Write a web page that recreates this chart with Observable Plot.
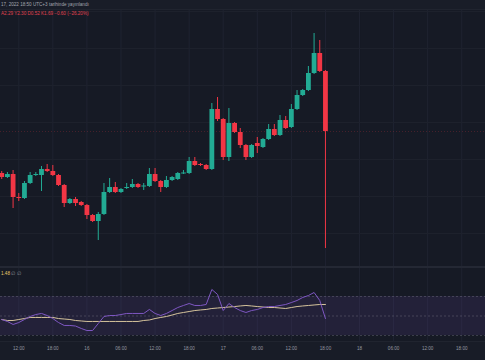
<!DOCTYPE html>
<html><head><meta charset="utf-8">
<script src="https://cdn.jsdelivr.net/npm/d3@7"></script>
<script src="https://cdn.jsdelivr.net/npm/@observablehq/plot@0.6"></script>
<style>
html,body{margin:0;padding:0;background:#161a25;}
#wrap{position:relative;width:485px;height:360px;overflow:hidden;background:#161a25;font-family:"Liberation Sans",Arial,sans-serif;}
#topbar{position:absolute;left:0;top:0;width:485px;height:9px;background:#191d28;border-bottom:1px solid #20242f;}
#meta{position:absolute;left:1px;top:2px;font-size:4.6px;color:#a3a6af;white-space:nowrap;}
#ohlc{position:absolute;left:1px;top:11px;font-size:4.6px;color:#e0414f;white-space:nowrap;}
#main{position:absolute;left:0;top:0;}
#sep{position:absolute;left:0;top:266px;width:485px;height:2px;background:#242834;}
#lower{position:absolute;left:0;top:268px;}
#axisbg{position:absolute;left:0;top:341px;width:485px;height:19px;background:#181c27;border-top:1px solid #20242f;}
#rsilab{position:absolute;left:1px;top:271px;font-size:4.6px;white-space:nowrap;}
svg{display:block;}
</style></head><body><div id="wrap">
<div id="axisbg"></div>
<div id="main"></div>
<div id="sep"></div>
<div id="lower"></div>
<div id="topbar"></div>
<div id="meta">17, 2022 18:50 UTC+3 tarihinde yayınlandı</div>
<div id="ohlc">A2.29 Y2.30 D0.52 K1.69 −0.60 (−26.20%)</div>
<div id="rsilab"><span style="color:#e8c86a">1.48</span> <span style="color:#8a8d96">∅ ∅</span></div>
</div>
<script>
// hourly candles, first at 2022-11-15 09:00
const startTime = new Date("2022-11-15T09:00:00Z");
const openP  = [1.27,1.23,1.26,1.03,1.02,1.17,1.25,1.25,1.31,1.29,1.25,1.15,0.97,1.01,0.98,0.95,0.85,0.79,0.86,1.08,1.13,1.08,1.12,1.13,1.16,1.135,1.14,1.26,1.19,1.13,1.20,1.21,1.265,1.27,1.39,1.36,1.35,1.31,1.91,1.81,1.43,1.77,1.68,1.55,1.43,1.57,1.53,1.61,1.71,1.65,1.80,1.73,1.91,2.05,2.10,2.27,2.47,2.29];
const highP  = [1.29,1.28,1.30,1.07,1.19,1.28,1.28,1.34,1.36,1.35,1.26,1.16,1.02,1.03,0.99,0.96,0.86,0.88,1.17,1.22,1.18,1.12,1.17,1.21,1.17,1.17,1.32,1.32,1.20,1.24,1.24,1.28,1.30,1.43,1.43,1.37,1.36,1.97,2.03,1.82,1.92,1.78,1.72,1.56,1.56,1.63,1.62,1.76,1.76,1.85,1.84,1.96,2.10,2.11,2.34,2.67,2.60,2.30];
const lowP   = [1.21,1.22,0.92,0.99,1.01,1.16,1.24,1.09,1.28,1.24,1.14,0.93,0.96,0.94,0.94,0.81,0.78,0.60,0.85,1.07,1.07,1.07,1.11,1.12,1.12,1.10,1.13,1.18,1.08,1.12,1.19,1.20,1.26,1.26,1.34,1.34,1.30,1.30,1.79,1.40,1.39,1.67,1.52,1.40,1.42,1.47,1.52,1.60,1.64,1.64,1.71,1.72,1.90,2.04,2.09,2.26,2.28,0.52];
const closeP = [1.23,1.26,1.03,1.02,1.17,1.25,1.26,1.31,1.29,1.25,1.15,0.97,1.01,0.97,0.95,0.85,0.79,0.86,1.08,1.13,1.08,1.11,1.13,1.16,1.13,1.145,1.26,1.19,1.13,1.20,1.23,1.27,1.275,1.39,1.35,1.35,1.31,1.91,1.81,1.43,1.77,1.68,1.55,1.43,1.55,1.54,1.61,1.71,1.65,1.80,1.72,1.91,2.05,2.10,2.27,2.47,2.29,1.69];
const rsiVals = [46.4,44.4,41.3,43.3,46.4,49.5,51.5,52.6,50.5,47.4,43.3,40.3,40.3,39.7,37.2,35.1,35.1,42.3,49.5,50.5,50.5,51.5,52.6,52.6,52.6,52.6,56.7,52.6,50.5,52.6,55.6,58.7,60.8,62.8,60.8,60.8,61.8,77.2,72.1,55.6,62.8,58.7,55.6,53.6,55.6,56.7,58.7,59.7,59.7,60.8,61.8,63.8,65.9,69.0,71.0,74.1,65.9,47.4];
const rsiMa  = [46.4,45.4,45.4,46.4,47.4,48.5,48.5,48.5,48.5,48.5,47.4,46.9,46.4,45.4,44.9,44.4,44.4,44.4,44.4,44.4,44.4,44.4,44.4,44.4,44.4,45.4,45.9,47.4,48.5,49.5,51.0,52.6,53.6,54.6,55.6,56.2,56.7,57.7,58.2,58.7,59.2,59.7,60.3,60.8,60.3,59.7,59.2,58.7,58.7,58.2,57.7,58.7,59.7,60.3,60.8,61.3,61.8,61.8];
const tickTimes  = ["2022-11-15T12:00Z","2022-11-15T18:00Z","2022-11-16T00:00Z","2022-11-16T06:00Z","2022-11-16T12:00Z","2022-11-16T18:00Z","2022-11-17T00:00Z","2022-11-17T06:00Z","2022-11-17T12:00Z","2022-11-17T18:00Z","2022-11-18T00:00Z","2022-11-18T06:00Z","2022-11-18T12:00Z","2022-11-18T18:00Z"];
const tickLabels = ["12:00","18:00","16","06:00","12:00","18:00","17","06:00","12:00","18:00","18","06:00","12:00","18:00"];
const priceGrid = [0.67,1.04,1.41,1.78,2.15,2.52,2.89];
const rsiLevels = [30,50,70];
const xDomain = [new Date("2022-11-15T08:47:00Z"), new Date("2022-11-18T22:11:00Z")];
const priceDomain = [0.32, 3.00];
const rsiDomain = [22.82, 98.72];

const UP = "#22ab94", DOWN = "#f23645";
const candles = openP.map((o, i) => ({
  t: d3.utcHour.offset(startTime, i), o, h: highP[i], l: lowP[i], c: closeP[i],
  col: closeP[i] >= o ? UP : DOWN, rsi: rsiVals[i], ma: rsiMa[i]
}));
const ticks = tickTimes.map((s, i) => ({t: new Date(s), label: tickLabels[i]}));
const last = candles[candles.length - 1];

const mainPlot = Plot.plot({
  width: 485, height: 268, margin: 0,
  style: {background: "transparent"},
  x: {type: "utc", domain: xDomain, axis: null},
  y: {domain: priceDomain, axis: null},
  marks: [
    Plot.ruleX(ticks, {x: "t", stroke: "#1f2331", strokeWidth: 1}),
    Plot.ruleY(priceGrid, {stroke: "#1d212c", strokeWidth: 1}),
    Plot.ruleY([last.c], {stroke: DOWN, strokeOpacity: 0.22, strokeDasharray: "1,2", strokeWidth: 1}),
    Plot.ruleX(candles, {x: "t", y1: "l", y2: "h", stroke: "col", strokeWidth: 1}),
    Plot.ruleX(candles, {x: "t", y1: "o", y2: "c", stroke: "col", strokeWidth: 4.8})
  ]
});
document.getElementById("main").appendChild(mainPlot);

const lowerPlot = Plot.plot({
  width: 485, height: 92, marginTop: 0, marginLeft: 0, marginRight: 0, marginBottom: 18,
  style: {background: "transparent"},
  x: {type: "utc", domain: xDomain, axis: null},
  y: {domain: rsiDomain, axis: null},
  marks: [
    Plot.ruleX(ticks, {x: "t", stroke: "#1f2331", strokeWidth: 1}),
    Plot.rect([{lo: rsiLevels[0], hi: rsiLevels[2]}], {y1: "lo", y2: "hi", fill: "#7e57c2", fillOpacity: 0.13}),
    Plot.ruleY(rsiLevels, {stroke: "#787b86", strokeOpacity: 0.4, strokeDasharray: "2,2", strokeWidth: 1}),
    Plot.lineY(candles, {x: "t", y: "ma", stroke: "#d6c49c", strokeWidth: 1}),
    Plot.lineY(candles, {x: "t", y: "rsi", stroke: "#7e57c2", strokeWidth: 1}),
    Plot.text(ticks, {x: "t", text: "label", frameAnchor: "bottom", dy: 6, lineAnchor: "middle", fill: "#9598a1", fontSize: 4.6, fontFamily: "Liberation Sans, Arial, sans-serif"})
  ]
});
document.getElementById("lower").appendChild(lowerPlot);
</script>
</body></html>
